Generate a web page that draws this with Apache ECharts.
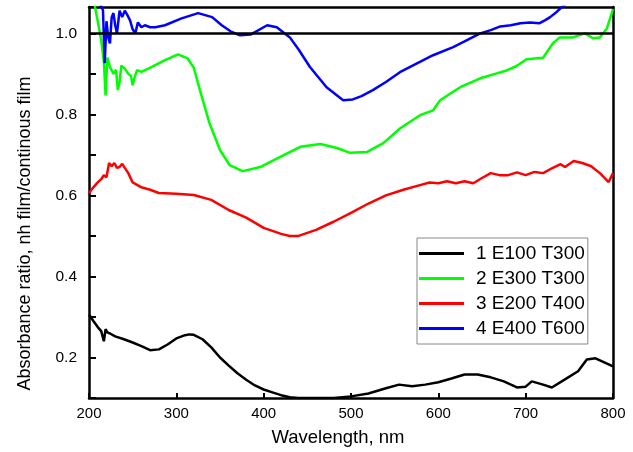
<!DOCTYPE html>
<html><head><meta charset="utf-8">
<script src="https://cdn.jsdelivr.net/npm/echarts@6/dist/echarts.min.js"></script>
<style>html,body{margin:0;padding:0;background:#fff}#c{width:633px;height:452px}</style>
</head><body><div id="c"></div>
<script>
const seriesNames = ['1 E100 T300', '2 E300 T300', '3 E200 T400', '4 E400 T600'];
const xTicks = [200, 300, 400, 500, 600, 700, 800];
const yTicks = [0.2, 0.4, 0.6, 0.8, 1.0];

const wlBlack = [200,205,210,214,217,219,221,225,230,240,250,260,270,280,290,300,310,315,320,330,340,350,360,370,380,390,400,410,420,430,440,460,480,500,520,540,555,570,585,600,615,630,645,660,675,690,700,707,720,730,745,760,770,780,790,800];
const absBlack = [0.306,0.29,0.275,0.265,0.24,0.27,0.262,0.258,0.252,0.245,0.237,0.228,0.218,0.22,0.232,0.247,0.255,0.257,0.256,0.245,0.225,0.2,0.18,0.161,0.145,0.131,0.121,0.114,0.107,0.102,0.1,0.1,0.1,0.104,0.111,0.124,0.133,0.129,0.133,0.139,0.148,0.158,0.158,0.151,0.141,0.126,0.128,0.141,0.133,0.126,0.146,0.166,0.195,0.198,0.188,0.178];

const wlGreen = [200,205,207,210,214,217,219,221,224,228,231,233,235,237,241,245,248,250,252,255,260,272,287,302,313,320,327,338,350,361,376,396,419,442,465,484,499,518,537,556,579,594,602,625,648,665,679,690,701,720,731,739,754,768,777,785,793,800];
const absGreen = [1.15,1.09,1.064,1.03,0.983,0.93,0.847,0.94,0.917,0.90,0.91,0.86,0.88,0.92,0.913,0.90,0.895,0.872,0.89,0.909,0.905,0.917,0.934,0.948,0.938,0.915,0.86,0.778,0.712,0.675,0.66,0.67,0.695,0.72,0.727,0.717,0.705,0.707,0.729,0.765,0.798,0.81,0.835,0.867,0.889,0.90,0.909,0.92,0.936,0.94,0.975,0.99,0.99,1.0,0.988,0.99,1.012,1.06];

const wlRed = [200,205,210,214,217,220,223,226,229,232,235,238,241,245,250,260,270,280,300,320,340,360,380,400,420,430,440,460,480,500,520,540,560,580,590,600,610,620,630,640,650,660,670,680,690,700,710,720,730,740,745,755,765,775,785,795,800];
const absRed = [0.606,0.62,0.632,0.64,0.65,0.645,0.68,0.672,0.68,0.668,0.67,0.678,0.668,0.655,0.632,0.62,0.614,0.606,0.604,0.601,0.589,0.564,0.545,0.52,0.505,0.50,0.50,0.515,0.535,0.557,0.58,0.60,0.614,0.626,0.632,0.63,0.635,0.63,0.635,0.63,0.643,0.655,0.65,0.65,0.657,0.65,0.658,0.655,0.667,0.677,0.67,0.685,0.68,0.672,0.655,0.633,0.655];

const wlBlue = [200,205,210,213,216,218,220,222,224,226,228,230,232,235,238,241,244,247,250,253,256,260,264,270,276,287,306,325,341,352,362,373,385,404,415,430,440,453,472,491,502,512,525,540,556,575,594,617,630,648,660,671,683,694,705,716,722,728,734,739,750,770,800];
const absBlue = [1.2,1.15,1.1,1.07,1.057,0.926,1.03,0.99,0.975,1.04,1.05,1.02,1.0,1.056,1.04,1.056,1.045,1.032,1.01,1.0,1.027,1.015,1.02,1.015,1.015,1.02,1.037,1.05,1.04,1.02,1.005,0.995,0.997,1.02,1.015,0.99,0.96,0.917,0.867,0.835,0.837,0.845,0.86,0.88,0.904,0.925,0.946,0.966,0.98,1.0,1.008,1.017,1.02,1.025,1.027,1.025,1.032,1.04,1.05,1.06,1.08,1.1,1.15];

const colors = ['#000000', '#00ff00', '#ff0000', '#0000ff'];
const wls = [wlBlack, wlGreen, wlRed, wlBlue];
const abss = [absBlack, absGreen, absRed, absBlue];
const font = '"Liberation Sans", Arial, sans-serif';

const chart = echarts.init(document.getElementById('c'), null, {renderer: 'canvas'});
const series = seriesNames.map((n, i) => ({
  name: n, type: 'line', symbol: 'none', smooth: false, clip: true,
  data: wls[i].map((w, j) => [w, abss[i][j]]),
  lineStyle: {color: colors[i], width: 2.5}, itemStyle: {color: colors[i]},
  z: 3
}));
series[0].markLine = {
  silent: true, symbol: 'none', label: {show: false},
  lineStyle: {color: '#000', width: 2.5, type: 'solid'},
  data: [{yAxis: 1.0}]
};
chart.setOption({
  animation: false,
  backgroundColor: '#fff',
  grid: {left: 89, right: 20, top: 7, bottom: 53, show: false},
  legend: {
    orient: 'vertical', left: 417, top: 238,
    padding: [6, 3, 6, 2], itemGap: 6, itemWidth: 45, itemHeight: 3,
    icon: 'rect', borderColor: '#888', borderWidth: 1, backgroundColor: '#fff',
    textStyle: {fontFamily: font, fontSize: 19, color: '#000', padding: [0, 0, 0, 7]},
    data: seriesNames
  },
  xAxis: [{
    type: 'value', min: 200, max: 800, interval: 100,
    name: 'Wavelength, nm', nameLocation: 'middle', nameGap: 30,
    nameTextStyle: {fontFamily: font, fontSize: 18.5, color: '#000', padding: [0, 26, 0, 0]},
    axisLine: {show: true, onZero: false, lineStyle: {color: '#000', width: 2.5}},
    axisTick: {show: true, inside: true, length: 5, lineStyle: {color: '#000', width: 2}},
    axisLabel: {fontFamily: font, fontSize: 15, color: '#000', margin: 8,
      formatter: v => xTicks.includes(v) ? String(v) : ''},
    splitLine: {show: false}
  }, {
    type: 'value', position: 'top', min: 200, max: 800,
    axisLine: {show: true, onZero: false, lineStyle: {color: '#000', width: 2.5}},
    axisTick: {show: false}, axisLabel: {show: false}, splitLine: {show: false}
  }],
  yAxis: [{
    type: 'value', min: 0.1, max: 1.065, interval: 0.1,
    name: 'Absorbance ratio, nh film/continous film', nameLocation: 'middle', nameGap: 55,
    nameTextStyle: {fontFamily: font, fontSize: 18, color: '#000', padding: [0, 62, 0, 0]},
    axisLine: {show: true, onZero: false, lineStyle: {color: '#000', width: 2.5}},
    axisTick: {show: true, inside: true, length: 7, lineStyle: {color: '#000', width: 2}},
    axisLabel: {fontFamily: font, fontSize: 15.5, color: '#000', margin: 12,
      formatter: v => {
        const t = yTicks.find(y => Math.abs(y - v) < 1e-6);
        return t !== undefined ? t.toFixed(1) : '';
      }},
    splitLine: {show: false}
  }, {
    type: 'value', position: 'right', min: 0.1, max: 1.065,
    axisLine: {show: true, onZero: false, lineStyle: {color: '#000', width: 2.5}},
    axisTick: {show: false}, axisLabel: {show: false}, splitLine: {show: false}
  }],
  series: series
});
</script></body></html>
